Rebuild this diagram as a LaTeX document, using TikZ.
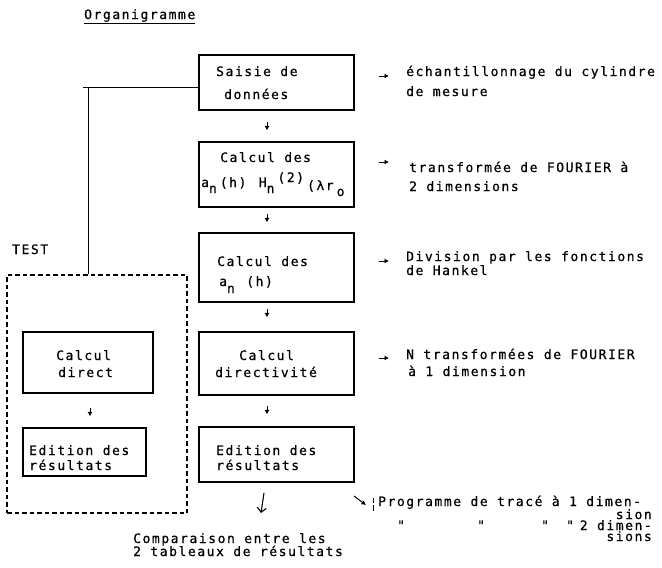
\documentclass[tikz,border=0pt]{standalone}
\usepackage{fontspec}
\newfontfamily\typew{DejaVu Sans Mono}[LetterSpace=12,FakeBold=0.6]
\usetikzlibrary{arrows.meta}
\begin{document}
\begin{tikzpicture}[x=1pt,y=-1pt,
  every node/.style={font=\typew\fontsize{13}{15}\selectfont, inner sep=0pt, text=black},
  txt/.style={anchor=base west},
  txtr/.style={anchor=base east},
  box/.style={draw, line width=1.1pt},
  dashbox/.style={draw, line width=1.1pt, dash pattern=on 4.5pt off 3pt},
  tick/.style={line width=1pt, -{Latex[length=4.5pt,width=5pt]}},
  bigtick/.style={line width=1.1pt, -{Straight Barb[length=4.5pt,width=9pt]}},
  link/.style={line width=1pt}]

% page
\fill[white] (0,0) rectangle (662,568);
\useasboundingbox (0,0) rectangle (662,568);

% title
\node[txt] (title) at (84,19) {Organigramme};
\draw[line width=0.9pt] ([yshift=-4.5pt]title.base west) -- ([yshift=-4.5pt]title.base east);

% main column of boxes
\node[box, minimum width=155pt, minimum height=55pt] (b1) at (276.5,82.5) {};
\node[box, minimum width=155pt, minimum height=65pt] (b2) at (276.5,174.5) {};
\node[box, minimum width=155pt, minimum height=69pt] (b3) at (276.5,267.5) {};
\node[box, minimum width=155pt, minimum height=63pt] (b4) at (276.5,363.5) {};
\node[box, minimum width=155pt, minimum height=55pt] (b5) at (276.5,454.5) {};

\node[txt] (b1a) at (216,76) {Saisie de};
\node[txt] (b1b) at (224,99) {données};
\node[txt] (b2a) at (220,162) {Calcul des};
\node[txt] (b2b) at (201,187) {a\raisebox{-6pt}{n}\kern3pt(h)\kern3pt{} H\raisebox{-6pt}{n}\kern3pt\raisebox{5pt}{(2)}\kern3pt\raisebox{-3pt}{(λr}\kern3pt\raisebox{-9pt}{o}};
\node[txt] (b3a) at (217,266) {Calcul des};
\node[txt] (b3b) at (219,286) {a\raisebox{-7pt}{n}\kern2pt{} (h)};
\node[txt] (b4a) at (239,360) {Calcul};
\node[txt] (b4b) at (215,377) {directivité};
\node[txt] (b5a) at (216,455) {Edition des};
\node[txt] (b5b) at (216,470) {résultats};

% test branch
\node[dashbox, minimum width=180pt, minimum height=238pt] (testbox) at (97,394) {};
\node[txt] (test) at (12,254) {TEST};
\node[box, minimum width=130pt, minimum height=61pt] (l1) at (88,362.5) {};
\node[box, minimum width=123pt, minimum height=48pt] (l2) at (84.5,452) {};
\node[txt] (l1a) at (56,360) {Calcul};
\node[txt] (l1b) at (58,377) {direct};
\node[txt] (l2a) at (29,455) {Edition des};
\node[txt] (l2b) at (29,470) {résultats};

% link from data input to the test branch
\coordinate (hl) at (83,87);
\coordinate (vt) at (88,87);
\draw[link] (hl) -- (hl -| b1.west);
\draw[link] (vt) -- (vt |- testbox.north);

% small arrows between boxes
\coordinate (rx) at (267,0);
\coordinate (lx) at (90,0);
\draw[tick, shorten <=11pt, shorten >=11pt] (rx |- b1.south) -- (rx |- b2.north);
\draw[tick, shorten <=6pt, shorten >=10pt] (rx |- b2.south) -- (rx |- b3.north);
\draw[tick, shorten <=6pt, shorten >=14pt] (rx |- b3.south) -- (rx |- b4.north);
\draw[tick, shorten <=10pt, shorten >=12pt] (rx |- b4.south) -- (rx |- b5.north);
\draw[tick, shorten <=14pt, shorten >=11pt] (lx |- l1.south) -- (lx |- l2.north);

% comments on each step
\node[txt] (a1a) at (406,76) {échantillonnage du cylindre};
\node[txt] (a1b) at (406,96) {de mesure};
\node[txt] (a2a) at (409,172) {transformée de FOURIER à};
\node[txt] (a2b) at (409,191) {2 dimensions};
\node[txt] (a3a) at (406,261) {Division par les fonctions};
\node[txt] (a3b) at (406,275) {de Hankel};
\node[txt] (a4a) at (406,359) {N transformées de FOURIER};
\node[txt] (a4b) at (408,376) {à 1 dimension};

\coordinate (t1) at (379,76);
\coordinate (t2) at (379,162);
\coordinate (t3) at (379,261);
\coordinate (t4) at (379,358);
\draw[tick] (t1) -- ++(10,0);
\draw[tick] (t2) -- ++(10,0);
\draw[tick] (t3) -- ++(10,0);
\draw[tick] (t4) -- ++(10,0);

% outputs
\coordinate (d1) at (264,493);
\coordinate (d2) at (261,513);
\draw[bigtick] (d1) -- (d2);
\node[txt] (cmpa) at (133,543) {Comparaison entre les};
\node[txt] (cmpb) at (133,556) {2 tableaux de résultats};

\coordinate (g1) at (354,496);
\coordinate (g2) at (366,505);
\draw[tick] (g1) -- (g2);
\draw[line width=0.6pt] (373,498) -- (373,503) (373,505) -- (373,511);
\node[txt] (p1) at (378,506) {Programme de tracé à 1 dimen-};
\node[txtr] (p2) at (652,519) {sion};
\node[txt] (q1) at (397,530) {"};
\node[txt] (q2) at (477,530) {"};
\node[txt] (q3) at (541,530) {"};
\node[txt] (q4) at (566,530) {"};
\node[txtr] (p3) at (652,530) {2 dimen-};
\node[txtr] (p4) at (652,541) {sions};
\end{tikzpicture}
\end{document}
